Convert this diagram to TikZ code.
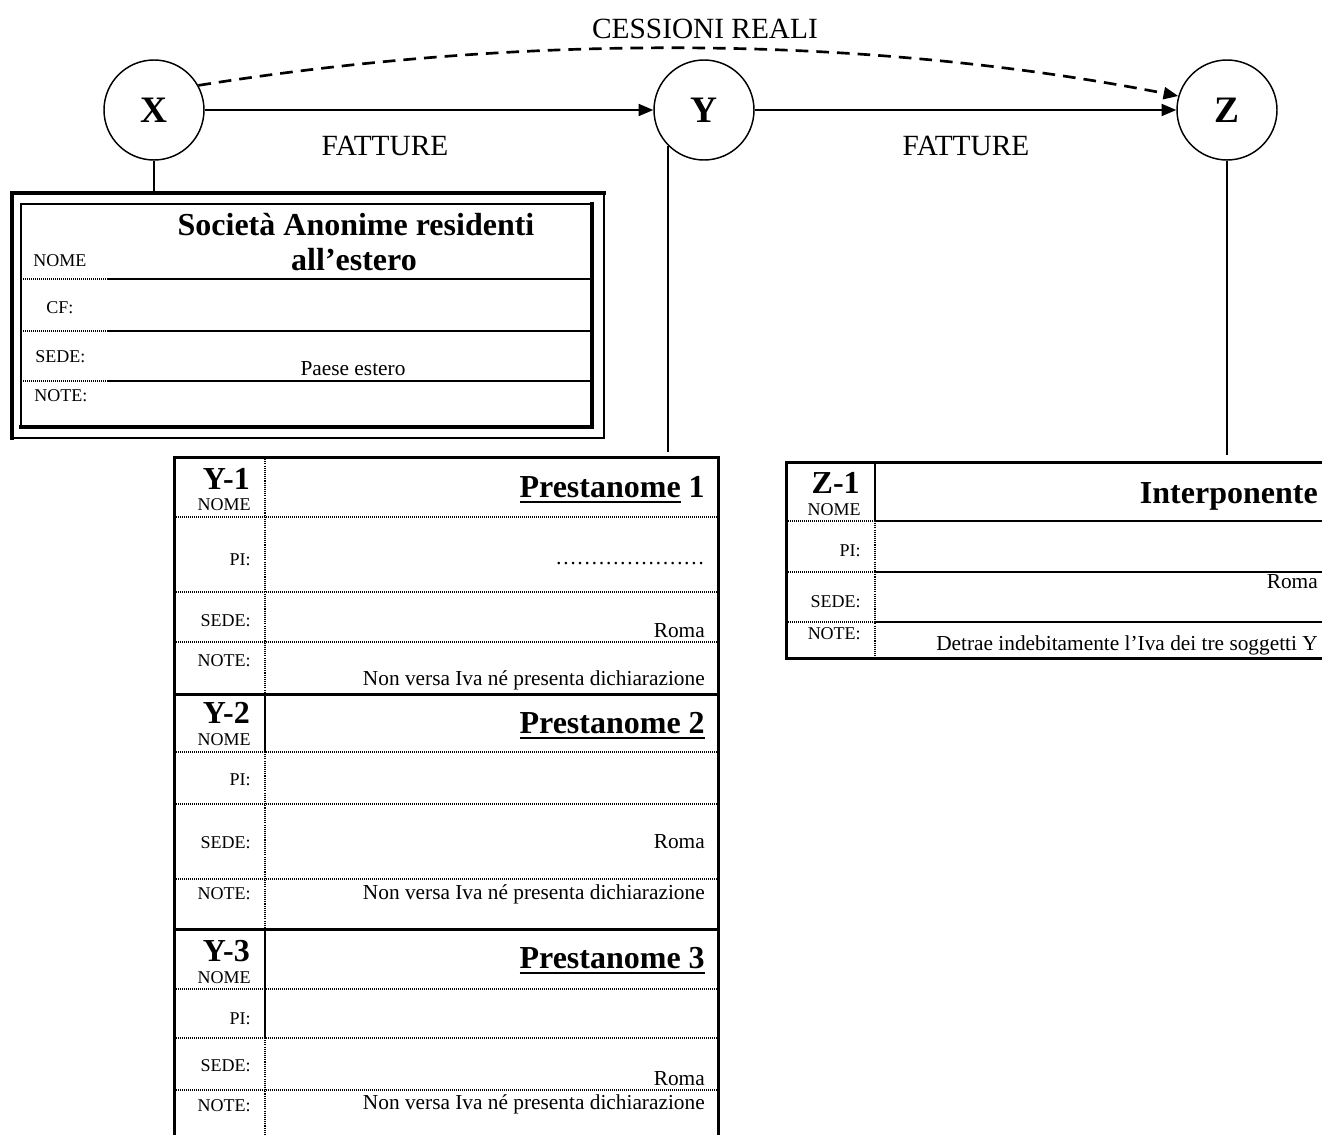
\documentclass[tikz,border=0pt]{standalone}
\usepackage{fontspec}
\setmainfont{Liberation Serif}
\usetikzlibrary{arrows.meta}
\newcommand\fReg{\fontsize{16}{19}\selectfont}
\newcommand\fLab{\fontsize{13.5}{16}\selectfont}
\newcommand\fBig{\bfseries\fontsize{24}{26.25}\selectfont}
\newcommand\fArr{\fontsize{22}{26}\selectfont}
\newcommand\fCirc{\bfseries\fontsize{28}{32}\selectfont}
\newcommand\uline[1]{\leavevmode\vtop{\hbox{#1}\kern2.6pt\hrule height 1.6pt}}
\begin{document}
\begin{tikzpicture}[x=0.75pt,y=-0.75pt,
  circ/.style={circle,draw,line width=1.1pt,minimum size=75pt,inner sep=0pt,font=\fCirc},
  lab/.style={anchor=base east,inner sep=0pt,font=\fLab},
  labw/.style={anchor=base west,inner sep=0pt,font=\fLab},
  val/.style={anchor=base east,inner sep=0pt,font=\fReg},
  ttl/.style={anchor=base east,inner sep=0pt,font=\fBig},
  arrtxt/.style={inner sep=0pt,font=\fArr},
  conn/.style={line width=1.1pt},
  arr/.style={line width=1.4pt,-{Triangle[length=11pt,width=9pt]}},
  dsh/.style={line width=2pt,dash pattern=on 9.5pt off 6pt,-{Triangle[length=11pt,width=9pt]}},
  thickL/.style={line width=2.6pt,line cap=rect},
  thinL/.style={line width=1.1pt,line cap=rect},
  boxL/.style={line width=2.25pt,line cap=rect},
  solL/.style={line width=1.5pt},
  rowdot/.style={line width=1.1pt,dash pattern=on 0.75pt off 0.75pt},
  coldot/.style={line width=1.6pt,dash pattern=on 0.8pt off 0.8pt},
  colsol/.style={line width=1.6pt}]
\path[use as bounding box] (0,0) rectangle (1322,1135);
\clip (0,0) rectangle (1322,1135);

% circles
\node[circ] (X) at (154,110) {X};
\node[circ] (Y) at (704,110) {Y};
\node[circ] (Z) at (1227,110) {Z};

% arrows and labels
\draw[arr] (X) -- (Y);
\draw[arr] (Y) -- (Z);
\draw[dsh] (X.29) .. controls (520,34) and (860,34) .. (Z.164);
\node[arrtxt] (cess) at (705,29) {CESSIONI REALI};
\node[arrtxt] (fat1) at (385,146) {FATTURE};
\node[arrtxt] (fat2) at (966,146) {FATTURE};

% connector end points
\coordinate (xtop) at (154,193);
\coordinate (ytop) at (668,452);
\coordinate (ztop) at (1227,455);
\draw[conn] (X) -- (xtop);
\draw[conn] (Y.south west) -- (Y.south west |- ytop);
\draw[conn] (Z) -- (ztop);

% ===== X box =====
\draw[thickL] (12,438) -- (12,193) -- (604,193);
\draw[thinL] (604,193) -- (604,438) -- (12,438);
\draw[thinL] (592,204) -- (21,204) -- (21,427);
\draw[thickL] (21,427) -- (592,427) -- (592,204);
\foreach \yy in {279,331,381}{
  \draw[rowdot] (21,\yy) -- (107,\yy);
  \draw[solL] (107,\yy) -- (592,\yy);
}
\node[inner sep=0pt,font=\fBig,anchor=base] (xtitle1) at (356,235) {Società Anonime residenti};
\node[inner sep=0pt,font=\fBig,anchor=base] (xtitle2) at (354,270) {all’estero};
\node[labw] (xnome) at (33,266) {NOME};
\node[labw] (xcf) at (46,313) {CF:};
\node[labw] (xsede) at (35,362) {SEDE:};
\node[labw] (xnote) at (34,401) {NOTE:};
\node[inner sep=0pt,font=\fReg,anchor=base] (xpaese) at (353,375) {Paese estero};

% ===== Y box =====
\draw[boxL] (174,1150) -- (174,457) -- (718,457) -- (718,1150);
\draw[boxL] (174,694) -- (718,694);
\draw[boxL] (174,929) -- (718,929);
\foreach \yy in {517,592,642,752,804,879,989,1038,1090}{
  \draw[rowdot] (174,\yy) -- (718,\yy);
}
\draw[coldot] (265,457) -- (265,694);
\draw[colsol] (265,694) -- (265,752);
\draw[coldot] (265,752) -- (265,929);
\draw[colsol] (265,929) -- (265,1038);
\draw[coldot] (265,1038) -- (265,1150);

% Y-1
\node[ttl] (y1) at (250,489) {Y-1};
\node[lab] (y1nome) at (251,510) {NOME};
\node[lab] (y1pi) at (251,565) {PI:};
\node[lab] (y1sede) at (251,626) {SEDE:};
\node[lab] (y1note) at (251,666) {NOTE:};
\node[ttl] (y1t) at (705,497) {\uline{Prestanome} 1};
\node[val] (y1piv) at (705,564) {…………………};
\node[val] (y1roma) at (705,637) {Roma};
\node[val] (y1n) at (705,685) {Non versa Iva né presenta dichiarazione};
% Y-2
\node[ttl] (y2) at (250,723) {Y-2};
\node[lab] (y2nome) at (251,745) {NOME};
\node[lab] (y2pi) at (251,785) {PI:};
\node[lab] (y2sede) at (251,848) {SEDE:};
\node[lab] (y2note) at (251,899) {NOTE:};
\node[ttl] (y2t) at (705,733) {\uline{Prestanome 2}};
\node[val] (y2roma) at (705,848) {Roma};
\node[val] (y2n) at (705,899) {Non versa Iva né presenta dichiarazione};
% Y-3
\node[ttl] (y3) at (250,961) {Y-3};
\node[lab] (y3nome) at (251,983) {NOME};
\node[lab] (y3pi) at (251,1024) {PI:};
\node[lab] (y3sede) at (251,1071) {SEDE:};
\node[lab] (y3note) at (251,1111) {NOTE:};
\node[ttl] (y3t) at (705,968) {\uline{Prestanome 3}};
\node[val] (y3roma) at (705,1085) {Roma};
\node[val] (y3n) at (705,1109) {Non versa Iva né presenta dichiarazione};

% ===== Z box =====
\draw[boxL] (1340,462) -- (786,462) -- (786,658) -- (1340,658);
\draw[colsol] (875,462) -- (875,521);
\draw[coldot] (875,521) -- (875,658);
\foreach \yy in {521,572,622}{
  \draw[rowdot] (786,\yy) -- (875,\yy);
  \draw[solL] (875,\yy) -- (1340,\yy);
}
\node[ttl] (z1) at (860,493) {Z-1};
\node[lab] (z1nome) at (861,515) {NOME};
\node[lab] (z1pi) at (861,556) {PI:};
\node[lab] (z1sede) at (861,607) {SEDE:};
\node[lab] (z1note) at (861,639) {NOTE:};
\node[ttl] (zt) at (1318,503) {Interponente};
\node[val] (zroma) at (1318,588) {Roma};
\node[val] (zn) at (1318,650) {Detrae indebitamente l’Iva dei tre soggetti Y};
\end{tikzpicture}
\end{document}
